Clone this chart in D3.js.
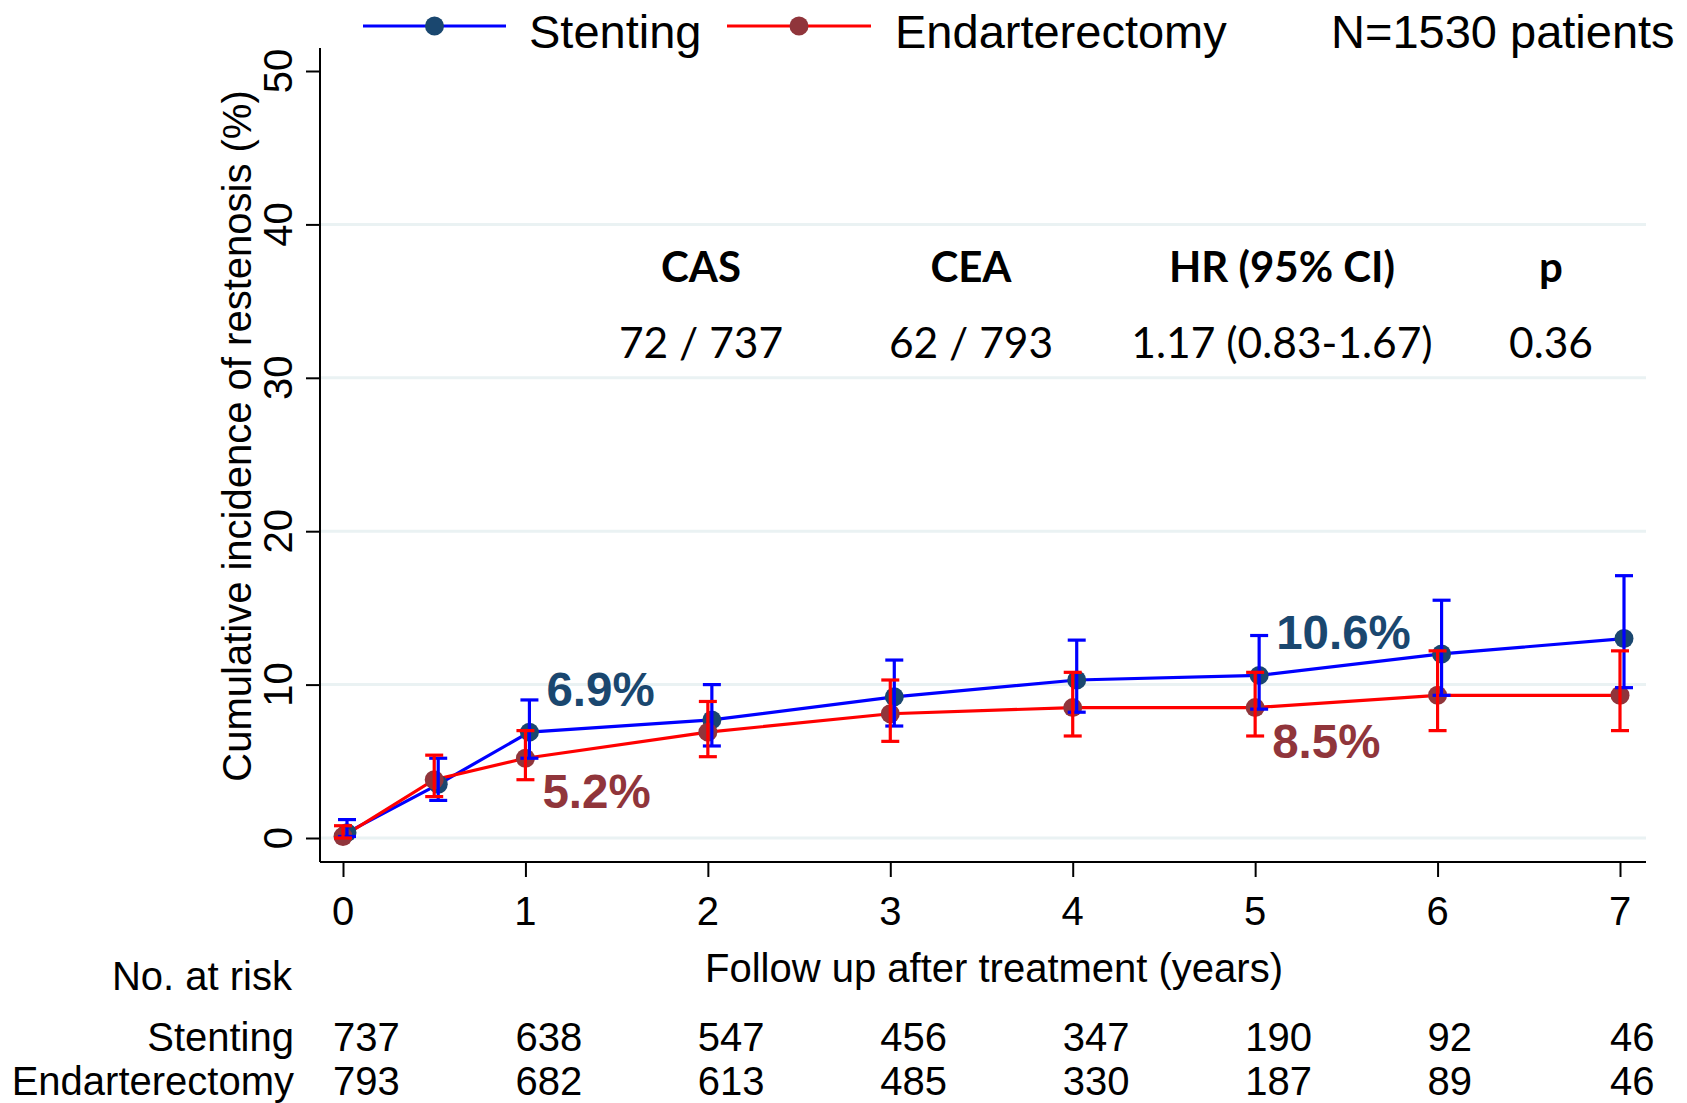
<!DOCTYPE html>
<html><head><meta charset="utf-8">
<script src="https://cdn.jsdelivr.net/npm/d3@7"></script>
<style>
html,body{margin:0;padding:0;background:#fff;}
svg{display:block;}
</style></head>
<body>
<svg id="chart" width="1687" height="1103"></svg>
<script>
// ---------------- data ----------------
const times = [0, 0.5, 1, 2, 3, 4, 5, 6, 7];
const stentEst = [0.35, 3.5, 6.9, 7.7, 9.2, 10.3, 10.6, 12.0, 13.0];
const stentLo  = [0.1, 2.45, 5.2, 6.0, 7.3, 8.2, 8.4, 9.3, 9.8];
const stentHi  = [1.2, 5.2, 9.0, 10.0, 11.6, 12.9, 13.2, 15.5, 17.1];
const endEst = [0.1, 3.8, 5.2, 6.9, 8.1, 8.5, 8.5, 9.3, 9.3];
const endLo  = [0, 2.7, 3.8, 5.3, 6.3, 6.65, 6.65, 7.0, 7.0];
const endHi  = [0.8, 5.4, 7.0, 8.9, 10.3, 10.8, 10.8, 12.2, 12.2];
const xTicks = [0, 1, 2, 3, 4, 5, 6, 7];
const yTicks = [0, 10, 20, 30, 40, 50];
const gridTicks = [0, 10, 20, 30, 40];
const riskTimes = [0, 1, 2, 3, 4, 5, 6, 7];
const riskStent = [737, 638, 547, 456, 347, 190, 92, 46];
const riskEnd   = [793, 682, 613, 485, 330, 187, 89, 46];
const seriesNames = ["Stenting", "Endarterectomy"];
const annoStent = [{t: 1, v: 6.9, text: "6.9%"}, {t: 5, v: 10.6, text: "10.6%"}];
const annoEnd   = [{t: 1, v: 5.2, text: "5.2%"}, {t: 5, v: 8.5, text: "8.5%"}];
const tableHeaders = ["CAS", "CEA", "HR (95% CI)", "p"];
const tableValues  = ["72 / 737", "62 / 793", "1.17 (0.83-1.67)", "0.36"];
const nText = "N=1530 patients";

// ---------------- styles ----------------
const ARIAL = "'Liberation Sans', Arial, sans-serif";
const CAL = "Lato, 'Open Sans', sans-serif";
const BLUE = "#0000ff", RED = "#ff0000", NAVY = "#1a476f", MAROON = "#90353b";
const GRID = "#eaf2f3";

const svg = d3.select("#chart");
const x = d3.scaleLinear().domain([0, 7]).range([343, 1620]);
const y = d3.scaleLinear().domain([0, 50]).range([838, 71]);
const axisX0 = 320, axisX1 = 1646, axisY = 862, axisTop = 48;

// gridlines
svg.append("g").selectAll("line").data(gridTicks).join("line")
  .attr("x1", axisX0).attr("x2", axisX1)
  .attr("y1", d => y(d)).attr("y2", d => y(d))
  .attr("stroke", GRID).attr("stroke-width", 3);

// y axis
const yAxis = d3.axisLeft(y).tickValues(yTicks).tickSize(14).tickFormat("");
const gy = svg.append("g").attr("transform", `translate(${axisX0},0)`).call(yAxis);
gy.select(".domain").attr("d", `M0,${axisTop}V${axisY}`).attr("stroke", "#000").attr("stroke-width", 2);
gy.selectAll(".tick line").attr("stroke", "#000").attr("stroke-width", 2);
svg.append("g").selectAll("text").data(yTicks).join("text")
  .attr("transform", d => `translate(292,${y(d)}) rotate(-90)`)
  .attr("text-anchor", "middle").attr("font-family", ARIAL).attr("font-size", 40)
  .attr("fill", "#000").text(d => d);

// x axis
const xAxis = d3.axisBottom(x).tickValues(xTicks).tickSize(15).tickFormat("");
const gx = svg.append("g").attr("transform", `translate(0,${axisY})`).call(xAxis);
gx.select(".domain").attr("d", `M${axisX0},0H${axisX1}`).attr("stroke", "#000").attr("stroke-width", 2);
gx.selectAll(".tick line").attr("stroke", "#000").attr("stroke-width", 2);
svg.append("g").selectAll("text").data(xTicks).join("text")
  .attr("x", d => x(d)).attr("y", 925).attr("text-anchor", "middle")
  .attr("font-family", ARIAL).attr("font-size", 40).text(d => d);

// axis titles
svg.append("text").attr("x", 994).attr("y", 982).attr("text-anchor", "middle")
  .attr("font-family", ARIAL).attr("font-size", 40).text("Follow up after treatment (years)");
svg.append("text").attr("transform", "translate(251,436) rotate(-90)").attr("text-anchor", "middle")
  .attr("font-family", ARIAL).attr("font-size", 40).text("Cumulative incidence of restenosis (%)");

// series
const series = [
  {name: seriesNames[0], est: stentEst, lo: stentLo, hi: stentHi, line: BLUE, mark: NAVY, dx: 4},
  {name: seriesNames[1], est: endEst, lo: endLo, hi: endHi, line: RED, mark: MAROON, dx: 0}
];
const capW = 9;
const lineGen = (s) => d3.line().x((d, i) => x(times[i]) + s.dx).y(d => y(d));

series.forEach(s => {
  svg.append("path").datum(s.est).attr("d", lineGen(s))
    .attr("fill", "none").attr("stroke", s.line).attr("stroke-width", 3.2);
});
series.forEach(s => {
  svg.append("g").selectAll("circle").data(s.est).join("circle")
    .attr("cx", (d, i) => x(times[i]) + s.dx).attr("cy", d => y(d)).attr("r", 9.5)
    .attr("fill", s.mark);
});
series.forEach(s => {
  const g = svg.append("g").attr("stroke", s.line).attr("stroke-width", 3.2);
  times.forEach((t, i) => {
    const cx = x(t) + s.dx;
    g.append("line").attr("x1", cx).attr("x2", cx).attr("y1", y(s.lo[i])).attr("y2", y(s.hi[i]));
    g.append("line").attr("x1", cx - capW).attr("x2", cx + capW).attr("y1", y(s.lo[i])).attr("y2", y(s.lo[i]));
    g.append("line").attr("x1", cx - capW).attr("x2", cx + capW).attr("y1", y(s.hi[i])).attr("y2", y(s.hi[i]));
  });
});

// annotations
svg.append("g").selectAll("text").data(annoStent).join("text")
  .attr("x", d => x(d.t) + 21).attr("y", d => y(d.v) - 26)
  .attr("font-family", ARIAL).attr("font-weight", "bold").attr("font-size", 47.5)
  .attr("fill", NAVY).text(d => d.text);
svg.append("g").selectAll("text").data(annoEnd).join("text")
  .attr("x", d => x(d.t) + 17).attr("y", d => y(d.v) + 50)
  .attr("font-family", ARIAL).attr("font-weight", "bold").attr("font-size", 47.5)
  .attr("fill", MAROON).text(d => d.text);

// summary table
const tableX = [701, 971, 1282, 1551];
svg.append("g").selectAll("text").data(tableHeaders).join("text")
  .attr("x", (d, i) => tableX[i]).attr("y", 282).attr("text-anchor", "middle")
  .attr("font-family", CAL).attr("font-weight", "bold").attr("font-size", 42).text(d => d);
svg.append("g").selectAll("text").data(tableValues).join("text")
  .attr("x", (d, i) => tableX[i]).attr("y", 358).attr("text-anchor", "middle")
  .attr("font-family", CAL).attr("font-size", 42.5).text(d => d);

// legend
const leg = [
  {name: seriesNames[0], line: BLUE, mark: NAVY, x0: 363, x1: 506, tx: 529},
  {name: seriesNames[1], line: RED, mark: MAROON, x0: 727, x1: 871, tx: 895}
];
leg.forEach(l => {
  svg.append("line").attr("x1", l.x0).attr("x2", l.x1).attr("y1", 26).attr("y2", 26)
    .attr("stroke", l.line).attr("stroke-width", 3.2);
  svg.append("circle").attr("cx", (l.x0 + l.x1) / 2).attr("cy", 26).attr("r", 9.5).attr("fill", l.mark);
  svg.append("text").attr("x", l.tx).attr("y", 48).attr("font-family", ARIAL).attr("font-size", 47).text(l.name);
});
svg.append("text").attr("x", 1331).attr("y", 48).attr("font-family", ARIAL).attr("font-size", 47).text(nText);

// number at risk
svg.append("text").attr("x", 292).attr("y", 990).attr("text-anchor", "end")
  .attr("font-family", ARIAL).attr("font-size", 40).text("No. at risk");
const riskRows = [{label: seriesNames[0], vals: riskStent, yb: 1051}, {label: seriesNames[1], vals: riskEnd, yb: 1095}];
riskRows.forEach(r => {
  svg.append("text").attr("x", 294).attr("y", r.yb).attr("text-anchor", "end")
    .attr("font-family", ARIAL).attr("font-size", 40).text(r.label);
  svg.append("g").selectAll("text").data(r.vals).join("text")
    .attr("x", (d, i) => x(riskTimes[i]) - 10).attr("y", r.yb)
    .attr("font-family", ARIAL).attr("font-size", 40).text(d => d);
});
</script>
</body></html>
